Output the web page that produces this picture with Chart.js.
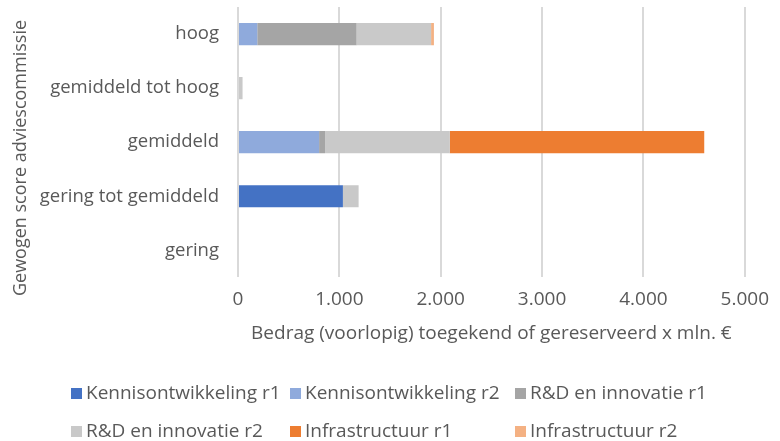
<!DOCTYPE html>
<html>
<head>
<meta charset="utf-8">
<script src="https://cdn.jsdelivr.net/npm/chart.js@4"></script>
<style>
  html, body { margin: 0; padding: 0; background: #fff; }
  #wrap { width: 780px; height: 441px; }
</style>
</head>
<body>
<div id="wrap"><canvas id="grafiek"></canvas></div>
<script>
// categorieen (van boven naar beneden)
var categorieen = ['hoog', 'gemiddeld tot hoog', 'gemiddeld', 'gering tot gemiddeld', 'gering'];

// bedragen in mln. euro per reeks
var kennisR1 = [0, 0, 0, 1035, 0];
var kennisR2 = [190, 0, 800, 0, 0];
var rdR1 = [980, 0, 60, 0, 0];
var rdR2 = [735, 45, 1230, 155, 0];
var infraR1 = [0, 0, 2510, 0, 0];
var infraR2 = [28, 0, 0, 0, 0];

var xTickLabels = ['0', '1.000', '2.000', '3.000', '4.000', '5.000'];
var yTitel = 'Gewogen score adviescommissie';

var tekstKleur = '#595959';
var font = 'Open Sans';

// eigen legenda zoals in Excel (drie kolommen, twee rijen) + y-titel
var legendaPlugin = {
    id: 'legenda',
    afterDraw: function (chart) {
        var ctx = chart.ctx;
        var kolommen = [71, 290, 515];
        var rijen = [393, 431];
        ctx.save();
        ctx.font = '19px "' + font + '"';
        ctx.textBaseline = 'middle';
        ctx.textAlign = 'left';
        chart.data.datasets.forEach(function (ds, i) {
            var x = kolommen[i % 3];
            var y = rijen[Math.floor(i / 3)];
            ctx.fillStyle = ds.backgroundColor;
            ctx.fillRect(x, y - 5, 11, 11);
            ctx.fillStyle = tekstKleur;
            ctx.fillText(ds.label, x + 15, y + 1);
        });

        // y-as titel, gedraaid
        ctx.translate(21, 158);
        ctx.rotate(-Math.PI / 2);
        ctx.textAlign = 'center';
        ctx.font = '18px "' + font + '"';
        ctx.fillText(yTitel, 0, 0);
        ctx.restore();
    }
};

var ctx = document.getElementById('grafiek').getContext('2d');
var grafiek = new Chart(ctx, {
    type: 'bar',
    data: {
        labels: categorieen,
        datasets: [
            { label: 'Kennisontwikkeling r1', data: kennisR1, backgroundColor: '#4472C4' },
            { label: 'Kennisontwikkeling r2', data: kennisR2, backgroundColor: '#8FAADC' },
            { label: 'R&D en innovatie r1', data: rdR1, backgroundColor: '#A5A5A5' },
            { label: 'R&D en innovatie r2', data: rdR2, backgroundColor: '#C9C9C9' },
            { label: 'Infrastructuur r1', data: infraR1, backgroundColor: '#ED7D31' },
            { label: 'Infrastructuur r2', data: infraR2, backgroundColor: '#F4B183' }
        ]
    },
    options: {
        indexAxis: 'y',
        responsive: true,
        maintainAspectRatio: false,
        animation: false,
        datasets: {
            bar: { categoryPercentage: 1, barPercentage: 0.41 }
        },
        layout: {
            padding: { top: 7, right: 30, bottom: 96, left: 0 }
        },
        scales: {
            x: {
                stacked: true,
                min: 0,
                max: 5000,
                ticks: {
                    stepSize: 1000,
                    color: tekstKleur,
                    font: { family: font, size: 19 },
                    padding: 11,
                    callback: function (v) { return xTickLabels[Math.round(v / 1000)]; }
                },
                grid: { color: '#D9D9D9', lineWidth: 2, drawTicks: false },
                border: { display: false },
                title: {
                    display: true,
                    text: 'Bedrag (voorlopig) toegekend of gereserveerd x mln. €',
                    color: tekstKleur,
                    font: { family: font, size: 19 },
                    padding: { top: 0, bottom: 0 }
                }
            },
            y: {
                stacked: true,
                ticks: {
                    color: tekstKleur,
                    font: { family: font, size: 18.5 },
                    padding: 19
                },
                grid: { display: false, drawTicks: false },
                border: { display: false },
                afterFit: function (scale) {
                    scale.width = 238;
                    scale.paddingTop = 0;
                    scale.paddingBottom = 0;
                }
            }
        },
        plugins: {
            legend: { display: false },
            tooltip: { enabled: false }
        }
    },
    plugins: [legendaPlugin]
});
</script>
</body>
</html>
